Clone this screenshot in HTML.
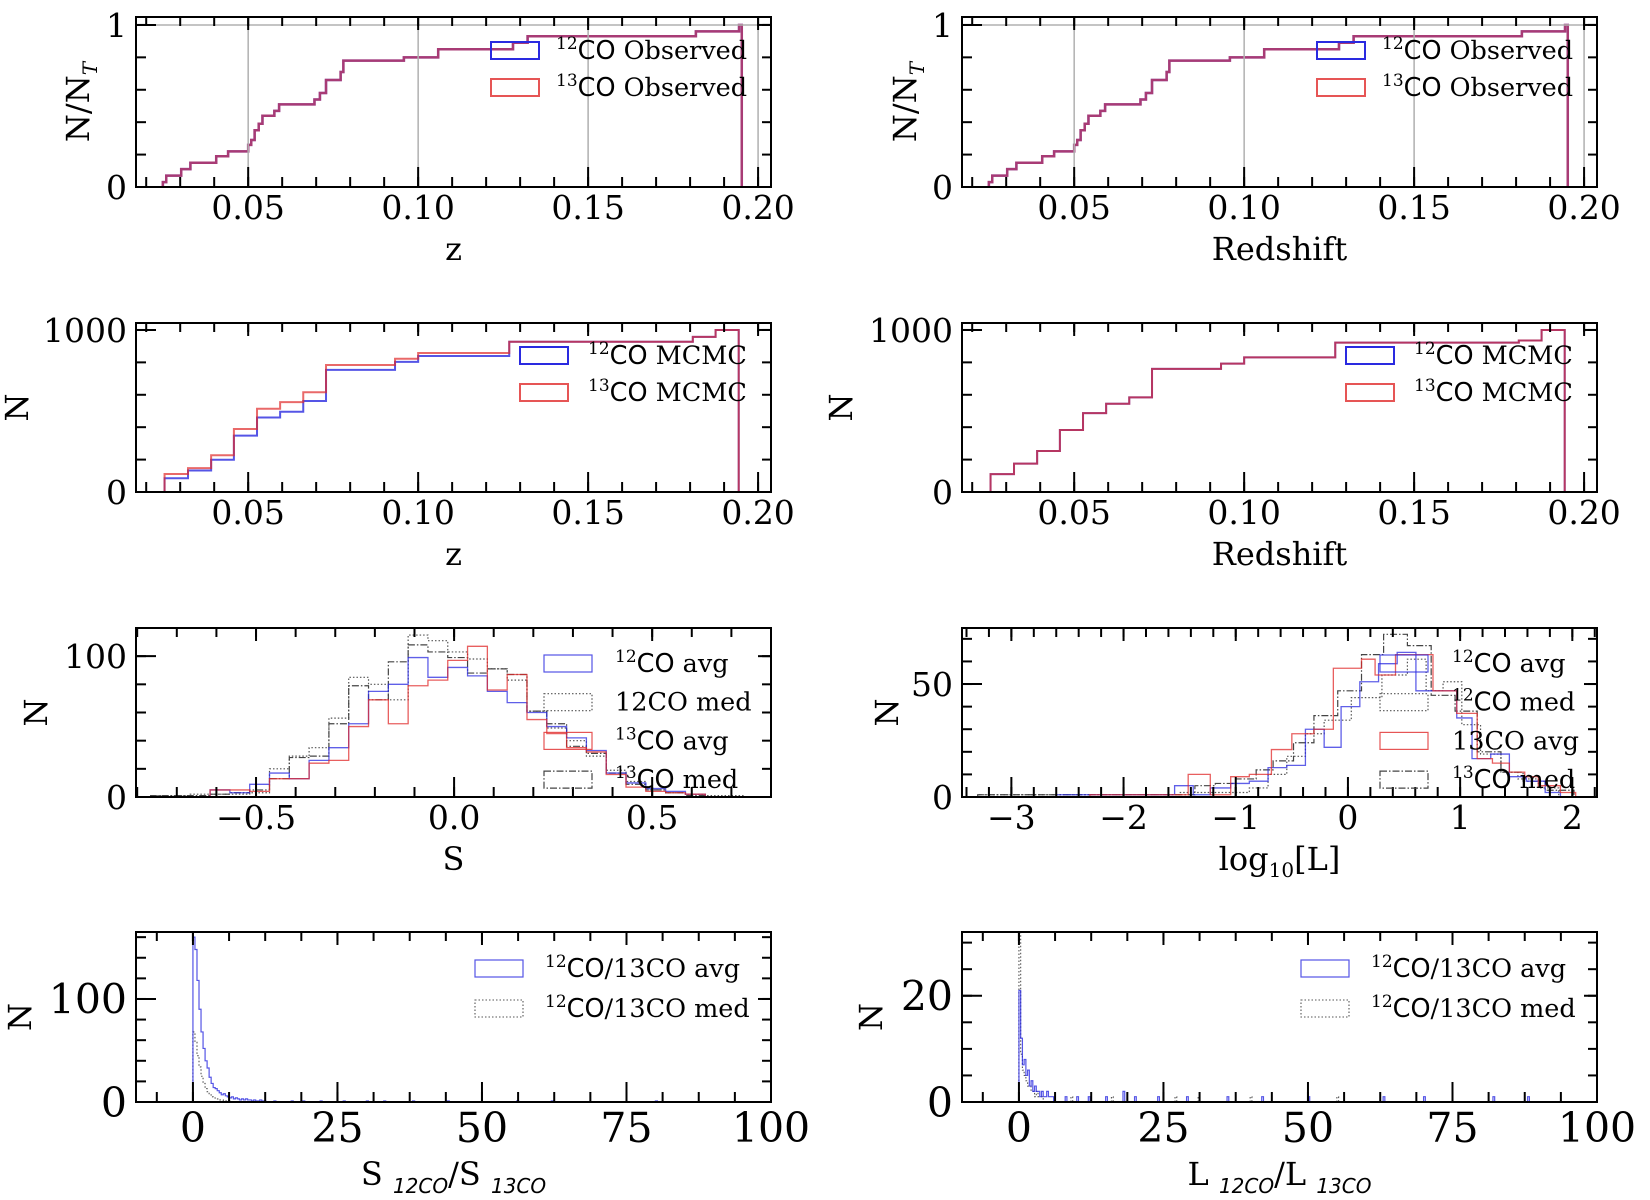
<!DOCTYPE html>
<html><head><meta charset="utf-8"><title>CO distributions</title>
<style>html,body{margin:0;padding:0;background:#fff;}svg{display:block;font-family:"DejaVu Serif","Liberation Serif",serif;}</style>
</head><body>
<svg id="fig" xmlns="http://www.w3.org/2000/svg" width="1650" height="1200" viewBox="0 0 1650 1200"></svg>
<script>
// ---------- data ----------
const cdfEdges=[0.0249,0.0259,0.0303,0.033,0.0406,0.0441,0.05,0.0509,0.0519,0.0531,0.0542,0.0577,0.0591,0.0695,0.0711,0.0729,0.0772,0.078,0.0958,0.1059,0.1279,0.1322,0.1817,0.1944,0.1952];
const cdfValues=[0.03,0.07,0.11,0.15,0.19,0.22,0.26,0.29,0.35,0.39,0.44,0.47,0.51,0.54,0.58,0.66,0.71,0.78,0.80,0.85,0.89,0.93,0.96,1.0];
const mcmcEdges=[0.0254,0.0323,0.0391,0.0458,0.0526,0.0594,0.0662,0.0729,0.0932,0.10,0.1268,0.1808,0.1875,0.1943];
const mcmc12=[85,133,199,348,460,495,562,754,803,839,927,957,1000];
const mcmc13=[111,147,227,389,514,555,616,784,822,858,927,957,1000];
const mcmcRight=[110,175,253,383,487,545,584,760,792,831,922,935,1000];
const sBinStart=-0.766, sBinWidth=0.05;
const s12avg=[0,0,0,5,3,9,17,13,26,35,52,75,80,99,85,92,86,75,67,60,50,42,33,17,10,6,4,2,0,0];
const s12med=[1,1,2,2,2,3,20,29,35,56,85,80,69,115,111,103,98,91,83,61,49,40,29,19,11,5,3,2,1,1];
const s13avg=[0,0,0,5,5,4,13,13,24,26,50,69,52,79,83,97,107,76,87,55,45,35,32,16,7,4,3,2,0,0];
const s13med=[1,1,1,2,3,5,13,28,29,52,79,69,96,108,103,99,88,91,87,61,52,36,31,17,9,5,3,1,0,0];
const l12avgEdges=[-2.6,-1.712,-1.545,-1.379,-1.227,-1.045,-0.879,-0.712,-0.545,-0.379,-0.212,-0.061,0.106,0.273,0.439,0.606,0.758,0.970,1.106,1.273,1.439,1.591,1.758,1.894];
const l12avg=[1,1,5,1,4,6,7,13,14,30,22,40,51,59,64,47,47,35,17,19,9,7,2];
const l12medEdges=[-3.3,-1.5,-0.879,-0.712,-0.545,-0.379,-0.212,0.03,0.303,0.530,0.697,0.848,1.015,1.182,1.364,1.515,1.697,1.879];
const l12med=[1,2,4,10,18,28,34,44,54,61,47,51,32,19,11,8,4];
const l13avgEdges=[-2.3,-1.424,-1.227,-1.045,-0.879,-0.682,-0.5,-0.303,-0.13,0.121,0.242,0.424,0.758,0.970,1.152,1.288,1.439,1.576,1.697,1.894,2.03];
const l13avg=[1,10,1,9,10,21,28,30,57,61,54,63,47,37,17,15,11,9,5,2];
const l13medEdges=[-3.3,-1.364,-1.182,-1.0,-0.818,-0.667,-0.485,-0.303,-0.091,0.121,0.318,0.530,0.742,0.955,1.152,1.364,1.561,1.758,2.015];
const l13med=[1,5,6,8,12,16,24,36,47,63,72,67,45,38,20,11,7,3];
const rBinWidth=0.35;
const sRatioAvg=[160,148,118,90,68,52,40,33,24,18,14,13,11,9,7,8,6,5,4,5,3,4,3,2,3,2,3,2,2,1,2,1,1,2,1,1];
const sRatioMed=[68,58,45,34,25,18,13,10,7,5,4,3,3,2,2,1,1,1,1];
const sTailAvgPos=[14,17,19,22,26,30,33,38,44,56,62,80];
const sTailAvgCnt=[1,1,1,1,1,1,1,1,1,1,1,1];
const lBinWidth=0.3;
const lRatioAvg=[21,12,7,8,5,6,3,4,2,3,2,2,1,2,1,1,2,1,1,1];
const lRatioMed=[32,9,6,5,4,3,3,2,2,1,2,1,1,1];
const lTailAvgPos=[8,10,12,15,18,20,24,29,36,42,50,63,70,82,88];
const lTailAvgCnt=[1,1,1,1,2,1,1,1,1,1,1,1,1,1,1];
const lTailMedPos=[9,16,27,31,40,55];
const lTailMedCnt=[1,1,1,1,1,1];

// ---------- helpers ----------
const NS='http://www.w3.org/2000/svg';
const svg=document.getElementById('fig');
function mk(tag,parent){const e=document.createElementNS(NS,tag);(parent||svg).appendChild(e);return e;}
function fmt(v){return (v<0?'\u2212':'')+String(Math.abs(v));}

function makeAxes(c){
  const g=mk('g');
  
  
  c.g=g;
  c.sx=v=>c.x0+(v-c.xmin)/(c.xmax-c.xmin)*(c.x1-c.x0);
  c.sy=v=>c.y1-(v-c.ymin)/(c.ymax-c.ymin)*(c.y1-c.y0);
  return c;
}
function finishAxes(c){
  const g=c.g;
  if(c.grid){
    c.xMaj.forEach(v=>{const l=mk('line',g);
      
      
      l.setAttribute('x1',c.sx(v));l.setAttribute('x2',c.sx(v));l.setAttribute('y1',c.y0);l.setAttribute('y2',c.y1);
      l.setAttribute('stroke','#b0b0b0');l.setAttribute('stroke-width','1.5');});
    const l=mk('line',g);
    
    
    l.setAttribute('x1',c.x0);l.setAttribute('x2',c.x1);l.setAttribute('y1',c.sy(1));l.setAttribute('y2',c.sy(1));
    l.setAttribute('stroke','#b0b0b0');l.setAttribute('stroke-width','1.5');
  }
  const tk=(x1,y1,x2,y2)=>{const l=mk('line',g);
    
    
    l.setAttribute('x1',x1);l.setAttribute('y1',y1);l.setAttribute('x2',x2);l.setAttribute('y2',y2);
    l.setAttribute('stroke','#000');l.setAttribute('stroke-width','2');};
  const minorX=[],minorY=[];
  for(let v=Math.ceil(c.xmin/c.xMin-1e-6)*c.xMin;v<=c.xmax+1e-9;v+=c.xMin)minorX.push(v);
  for(let v=Math.ceil(c.ymin/c.yMin-1e-6)*c.yMin;v<=c.ymax+1e-9;v+=c.yMin)minorY.push(v);
  minorX.forEach(v=>{const x=c.sx(v);tk(x,c.y1,x,c.y1-10);tk(x,c.y0,x,c.y0+9);});
  minorY.forEach(v=>{const y=c.sy(v);tk(c.x0,y,c.x0+10,y);tk(c.x1,y,c.x1-9,y);});
  c.xMaj.forEach((v,i)=>{const x=c.sx(v);tk(x,c.y1,x,c.y1-20);tk(x,c.y0,x,c.y0+13);
    const t=mk('text',g);
    
    
    t.setAttribute('x',x);t.setAttribute('y',c.y1+c.tfs*0.97);t.setAttribute('text-anchor','middle');t.setAttribute('font-size',c.tfs);
    t.textContent=c.xLab[i];});
  c.yMaj.forEach((v,i)=>{const y=c.sy(v);tk(c.x0,y,c.x0+20,y);tk(c.x1,y,c.x1-13,y);
    const t=mk('text',g);
    
    
    t.setAttribute('x',c.x0-9);t.setAttribute('y',y+c.yfs*0.36);t.setAttribute('text-anchor','end');t.setAttribute('font-size',c.yfs);
    t.textContent=c.yLab[i];});
  const fr=mk('rect',g);
  
  
  fr.setAttribute('x',c.x0);fr.setAttribute('y',c.y0);fr.setAttribute('width',c.x1-c.x0);fr.setAttribute('height',c.y1-c.y0);
  fr.setAttribute('fill','none');fr.setAttribute('stroke','#000');fr.setAttribute('stroke-width','2');
  const xl=mk('text',g);
  
  
  xl.setAttribute('x',(c.x0+c.x1)/2);xl.setAttribute('y',c.y1+c.xlOff);xl.setAttribute('text-anchor','middle');xl.setAttribute('font-size',32);
  xl.innerHTML=c.xlabel;
  const yl=mk('text',g);
  
  
  const cy=(c.y0+c.y1)/2;
  yl.setAttribute('transform','translate('+(c.ylX+10)+','+cy+') rotate(-90)');
  yl.setAttribute('text-anchor','middle');yl.setAttribute('font-size',32);
  yl.innerHTML=c.ylabel;
}
function stepPath(c,edges,vals){
  let d='M'+c.sx(edges[0]).toFixed(2)+','+c.sy(0).toFixed(2);
  for(let i=0;i<vals.length;i++){
    d+=' V'+c.sy(Math.min(vals[i],c.ymax)).toFixed(2)+' H'+c.sx(edges[i+1]).toFixed(2);
  }
  d+=' V'+c.sy(0).toFixed(2);
  return d;
}
function uniformEdges(start,w,n){const e=[];for(let i=0;i<=n;i++)e.push(start+w*i);return e;}
function drawHist(c,edges,vals,style,name){
  const p=mk('path',c.g);
  
  
  p.setAttribute('d',stepPath(c,edges,vals));
  p.setAttribute('fill','none');p.setAttribute('stroke',style.color);p.setAttribute('stroke-width',style.w);
  if(style.op)p.setAttribute('stroke-opacity',style.op);
  if(style.dash)p.setAttribute('stroke-dasharray',style.dash);
}
function drawTail(c,pos,cnt,w,style,name){
  pos.forEach((v,i)=>{
    const p=mk('path',c.g);
    
    
    p.setAttribute('d',stepPath(c,[v,v+w],[cnt[i]]));
    p.setAttribute('fill','none');p.setAttribute('stroke',style.color);p.setAttribute('stroke-width',style.w);
    if(style.op)p.setAttribute('stroke-opacity',style.op);
    if(style.dash)p.setAttribute('stroke-dasharray',style.dash);
  });
}
function legend(c,items,px,py0,dy,tx){
  items.forEach((it,i)=>{
    const y=py0+dy*i;
    const r=mk('rect',c.g);
    
    
    r.setAttribute('x',px);r.setAttribute('y',y);r.setAttribute('width',it.pw||48);r.setAttribute('height',17);
    r.setAttribute('fill','none');r.setAttribute('stroke',it.color);r.setAttribute('stroke-width',it.w||1.5);
    if(it.op)r.setAttribute('stroke-opacity',it.op);
    if(it.dash)r.setAttribute('stroke-dasharray',it.dash);
    const t=mk('text',c.g);
    
    
    t.setAttribute('x',tx);t.setAttribute('y',y+17);t.setAttribute('font-size',25.5);
    t.innerHTML=it.label;
  });
}
const SUP12='<tspan font-size="17" dy="-10">12</tspan><tspan dy="10" font-family="DejaVu Sans, sans-serif">CO</tspan>';
const SUP13='<tspan font-size="17" dy="-10">13</tspan><tspan dy="10" font-family="DejaVu Sans, sans-serif">CO</tspan>';
const BLUE='#2a2ae0',RED='#e02a2a';

const zLabX=[0.05,0.10,0.15,0.20], zLab=['0.05','0.10','0.15','0.20'];
[[136,'z','cdf-z-left',79],[962,'Redshift','cdf-z-right',906]].forEach(([x0,xl,nm,ylx])=>{
  const c=makeAxes({name:nm,x0:x0,x1:x0+635,y0:17,y1:187,xmin:0.017,xmax:0.2038,ymin:0,ymax:1.049,
    xMaj:zLabX,xLab:zLab,xMin:0.01,yMaj:[0,1],yLab:['0','1'],yMin:0.2,tfs:33,yfs:33,grid:true,
    xlabel:xl,xlOff:73,ylX:ylx,ylabel:'N/N<tspan font-size="20" dy="8" font-style="italic">T</tspan>'});
  drawHist(c,cdfEdges,cdfValues,{color:BLUE,w:2.5,op:0.8},'cdf-12co-observed');
  drawHist(c,cdfEdges,cdfValues,{color:RED,w:2.5,op:0.6},'cdf-13co-observed');
  finishAxes(c);
  legend(c,[{color:BLUE,label:SUP12+' Observed',w:2},{color:RED,label:SUP13+' Observed',w:2,op:0.8}],x0+355,42,37,x0+420);
});
[[136,'z','mcmc-z-left',18,mcmc12,mcmc13],[962,'Redshift','mcmc-z-right',842,mcmcRight,mcmcRight]].forEach(([x0,xl,nm,ylx,b,r])=>{
  const c=makeAxes({name:nm,x0:x0,x1:x0+635,y0:323,y1:492,xmin:0.017,xmax:0.2038,ymin:0,ymax:1043,
    xMaj:zLabX,xLab:zLab,xMin:0.01,yMaj:[0,1000],yLab:['0','1000'],yMin:200,tfs:33,yfs:33,
    xlabel:xl,xlOff:73,ylX:ylx,ylabel:'N'});
  drawHist(c,mcmcEdges,b,{color:BLUE,w:2,op:0.8},'hist-12co-mcmc');
  drawHist(c,mcmcEdges,r,{color:RED,w:2,op:0.7},'hist-13co-mcmc');
  finishAxes(c);
  legend(c,[{color:BLUE,label:SUP12+' MCMC',w:2},{color:RED,label:SUP13+' MCMC',w:2,op:0.8}],x0+384,347,37,x0+452);
});
(function(){
  const c=makeAxes({name:'hist-s',x0:136,x1:771,y0:628,y1:797,xmin:-0.803,xmax:0.80,ymin:0,ymax:120,
    xMaj:[-0.5,0,0.5],xLab:['\u22120.5','0.0','0.5'],xMin:0.1,yMaj:[0,100],yLab:['0','100'],yMin:20,tfs:33,yfs:33,
    xlabel:'S',xlOff:73,ylX:37,ylabel:'N'});
  const n=s12avg.length,e=uniformEdges(sBinStart,sBinWidth,n);
  drawHist(c,e,s12med,{color:'#555',w:1.2,dash:'1.5,2'},'hist-12co-med');
  drawHist(c,e,s13med,{color:'#444',w:1.2,dash:'7,2,1.5,2'},'hist-13co-med');
  drawHist(c,e,s12avg,{color:BLUE,w:1.3,op:0.75},'hist-12co-avg');
  drawHist(c,e,s13avg,{color:RED,w:1.3,op:0.75},'hist-13co-avg');
  finishAxes(c);
  legend(c,[{color:BLUE,label:SUP12+' avg',w:1.2,op:0.8},{color:'#555',label:'12CO med',w:1.2,dash:'1.5,2'},
    {color:RED,label:SUP13+' avg',w:1.2,op:0.8},{color:'#444',label:SUP13+' med',w:1.2,dash:'7,2,1.5,2'}],544,655,38.7,615);
})();
(function(){
  const c=makeAxes({name:'hist-logl',x0:962,x1:1597,y0:628,y1:797,xmin:-3.44,xmax:2.22,ymin:0,ymax:74.8,
    xMaj:[-3,-2,-1,0,1,2],xLab:[-3,-2,-1,0,1,2].map(fmt),xMin:0.2,yMaj:[0,50],yLab:['0','50'],yMin:10,tfs:33,yfs:33,
    xlabel:'log<tspan font-size="20" dy="7">10</tspan><tspan dy="-7">[L]</tspan>',xlOff:73,ylX:888,ylabel:'N'});
  drawHist(c,l12medEdges,l12med,{color:'#555',w:1.2,dash:'1.5,2'},'hist-12co-med');
  drawHist(c,l13medEdges,l13med,{color:'#444',w:1.2,dash:'7,2,1.5,2'},'hist-13co-med');
  drawHist(c,l12avgEdges,l12avg,{color:BLUE,w:1.3,op:0.75},'hist-12co-avg');
  drawHist(c,l13avgEdges,l13avg,{color:RED,w:1.3,op:0.75},'hist-13co-avg');
  finishAxes(c);
  legend(c,[{color:BLUE,label:SUP12+' avg',w:1.2,op:0.8},{color:'#555',label:SUP12+' med',w:1.2,dash:'1.5,2'},
    {color:RED,label:'13CO avg',w:1.2,op:0.8},{color:'#444',label:SUP13+' med',w:1.2,dash:'7,2,1.5,2'}],1380,655,38.7,1452);
})();
[[136,'hist-flux-ratio',21,165,[0,100],['0','100'],20,sRatioAvg,sRatioMed,rBinWidth,sTailAvgPos,sTailAvgCnt,[],[],'S <tspan font-size="20" dy="8" font-family="DejaVu Sans, sans-serif" font-style="italic">12CO</tspan><tspan dy="-8">/S </tspan><tspan font-size="20" dy="8" font-family="DejaVu Sans, sans-serif" font-style="italic">13CO</tspan>',475,545],
 [962,'hist-lum-ratio',872,32,[0,20],['0','20'],5,lRatioAvg,lRatioMed,lBinWidth,lTailAvgPos,lTailAvgCnt,lTailMedPos,lTailMedCnt,'L <tspan font-size="20" dy="8" font-family="DejaVu Sans, sans-serif" font-style="italic">12CO</tspan><tspan dy="-8">/L </tspan><tspan font-size="20" dy="8" font-family="DejaVu Sans, sans-serif" font-style="italic">13CO</tspan>',1301,1371]
].forEach(([x0,nm,ylx,ymax,yMaj,yLab,yMin,avg,med,bw,tp,tc,mp,mc,xl,px,tx])=>{
  const c=makeAxes({name:nm,x0:x0,x1:x0+635,y0:932,y1:1102,xmin:-9.85,xmax:100,ymin:0,ymax:ymax,
    xMaj:[0,25,50,75,100],xLab:['0','25','50','75','100'],xMin:6.25,yMaj:yMaj,yLab:yLab,yMin:yMin,tfs:41,yfs:41,
    xlabel:xl,xlOff:83,ylX:ylx,ylabel:'N'});
  drawHist(c,uniformEdges(0,bw,med.length),med,{color:'#555',w:1.1,dash:'1.5,2'},'hist-ratio-med');
  drawTail(c,mp,mc,bw,{color:'#555',w:1.1,dash:'1.5,2'},'hist-ratio-med-tail');
  drawHist(c,uniformEdges(0,bw,avg.length),avg,{color:BLUE,w:1.2,op:0.8},'hist-ratio-avg');
  drawTail(c,tp,tc,bw,{color:BLUE,w:1.2,op:0.8},'hist-ratio-avg-tail');
  finishAxes(c);
  legend(c,[{color:BLUE,label:'<tspan font-size="17" dy="-10">12</tspan><tspan dy="10" font-family="DejaVu Sans, sans-serif">CO</tspan>/13CO avg',w:1.2,op:0.8},
    {color:'#555',label:'<tspan font-size="17" dy="-10">12</tspan><tspan dy="10" font-family="DejaVu Sans, sans-serif">CO</tspan>/13CO med',w:1.1,dash:'1.5,2'}],px,960,40,tx);
});
</script>
</body></html>
